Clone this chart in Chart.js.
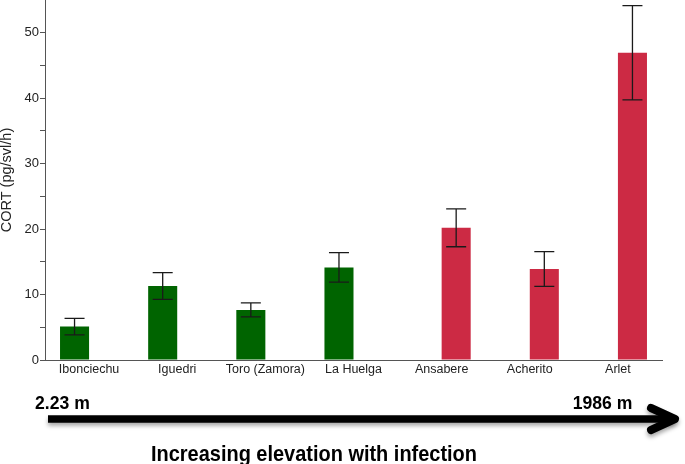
<!DOCTYPE html>
<html>
<head>
<meta charset="utf-8">
<script src="https://cdn.jsdelivr.net/npm/chart.js@4.4.0/dist/chart.umd.min.js"></script>
<style>
html,body{margin:0;padding:0;background:#fff;}
#wrap{position:relative;width:685px;height:464px;overflow:hidden;}
canvas{display:block;}
</style>
</head>
<body>
<div id="wrap"><canvas id="c" width="685" height="464"></canvas></div>
<script>
// ---- data ----
const sites = ['Ibonciechu', 'Iguedri', 'Toro (Zamora)', 'La Huelga', 'Ansabere', 'Acherito', 'Arlet'];
const cort = [5.1, 11.3, 7.65, 14.15, 20.2, 13.9, 46.95];
const sem = [1.25, 2.05, 1.07, 2.25, 2.9, 2.65, 7.2];
const infected = [false, false, false, false, true, true, true];
const yTickValues = [0, 10, 20, 30, 40, 50];
const elevationLow = '2.23 m';
const elevationHigh = '1986 m';
const bottomCaption = 'Increasing elevation with infection';
const yTitle = 'CORT (pg/svl/h)';

const FONT = '"Liberation Sans", Arial, Helvetica, sans-serif';

const dsUninfected = {
  label: 'Uninfected',
  data: cort.map((v, i) => infected[i] ? null : v),
  errors: sem.map((e, i) => infected[i] ? null : e),
  backgroundColor: '#006400',
  borderWidth: 0
};
const dsInfected = {
  label: 'Infected',
  data: cort.map((v, i) => infected[i] ? v : null),
  errors: sem.map((e, i) => infected[i] ? e : null),
  backgroundColor: '#CC2A44',
  borderWidth: 0
};

const errorBarPlugin = {
  id: 'errorBars',
  afterDatasetsDraw(chart) {
    const ctx = chart.ctx;
    const ys = chart.scales.y;
    ctx.save();
    ctx.strokeStyle = '#1a1a1a';
    ctx.lineWidth = 1.3;
    chart.data.datasets.forEach((ds, di) => {
      const meta = chart.getDatasetMeta(di);
      ds.data.forEach((v, i) => {
        if (v === null || v === undefined) return;
        const e = ds.errors[i];
        const x = meta.data[i].x;
        const yt = ys.getPixelForValue(v + e);
        const yb = ys.getPixelForValue(v - e);
        const hw = 10;
        ctx.beginPath();
        ctx.moveTo(x, yt); ctx.lineTo(x, yb);
        ctx.moveTo(x - hw, yt); ctx.lineTo(x + hw, yt);
        ctx.moveTo(x - hw, yb); ctx.lineTo(x + hw, yb);
        ctx.stroke();
      });
    });
    ctx.restore();
  }
};

const arrowPlugin = {
  id: 'elevationArrow',
  afterDraw(chart) {
    const ctx = chart.ctx;
    ctx.save();
    ctx.shadowColor = 'rgba(0,0,0,0.35)';
    ctx.shadowBlur = 4;
    ctx.shadowOffsetY = 3;
    ctx.strokeStyle = '#000';
    ctx.lineWidth = 7.5;
    ctx.lineCap = 'butt';
    ctx.beginPath();
    ctx.moveTo(48, 419);
    ctx.lineTo(674, 419);
    ctx.stroke();
    ctx.lineWidth = 8;
    ctx.lineCap = 'round';
    ctx.lineJoin = 'round';
    ctx.beginPath();
    ctx.moveTo(651, 408);
    ctx.lineTo(675, 419);
    ctx.lineTo(651, 430);
    ctx.stroke();
    ctx.restore();

    ctx.save();
    ctx.fillStyle = '#000';
    ctx.textBaseline = 'alphabetic';
    ctx.textAlign = 'left';
    ctx.font = 'bold 17.6px ' + FONT;
    ctx.fillText(elevationLow, 35, 409.3);
    ctx.fillText(elevationHigh, 572.7, 409.3);
    ctx.font = 'bold 22px ' + FONT;
    const w = ctx.measureText(bottomCaption).width;
    const s = 326 / w;
    ctx.translate(151, 461);
    ctx.scale(s, 1);
    ctx.fillText(bottomCaption, 0, 0);
    ctx.restore();
  }
};

new Chart(document.getElementById('c'), {
  type: 'bar',
  data: { labels: sites, datasets: [dsUninfected, dsInfected] },
  options: {
    responsive: false,
    animation: false,
    devicePixelRatio: 1,
    categoryPercentage: 58 / 88,
    barPercentage: 1,
    layout: { padding: { left: 0, right: 23, top: 0, bottom: 0 } },
    plugins: { legend: { display: false }, tooltip: { enabled: false } },
    scales: {
      x: {
        afterFit(s) { s.height = 104; s.paddingLeft = 0; s.paddingRight = 0; },
        border: { display: true, color: '#555', width: 1 },
        grid: { display: false, drawTicks: false },
        ticks: { padding: 2, color: '#222', font: { family: FONT, size: 12.5 }, maxRotation: 0, autoSkip: false }
      },
      y: {
        min: 0, max: 55,
        afterFit(s) { s.width = 45; s.paddingTop = 0; s.paddingBottom = 0; },
        border: { display: true, color: '#555', width: 1 },
        grid: {
          display: true, drawOnChartArea: false, drawTicks: true, tickLength: 5,
          color: (c) => (c.tick && c.tick.value > 50) ? 'rgba(0,0,0,0)' : '#555'
        },
        ticks: {
          stepSize: 5, autoSkip: false, padding: 1, color: '#222',
          font: { family: FONT, size: 13 },
          callback: (v) => yTickValues.includes(v) ? String(v) : ''
        },
        title: { display: true, text: yTitle, color: '#222', padding: 0, font: { family: FONT, size: 14.5, lineHeight: 1 } }
      }
    }
  },
  plugins: [errorBarPlugin, arrowPlugin]
});
</script>
</body>
</html>
